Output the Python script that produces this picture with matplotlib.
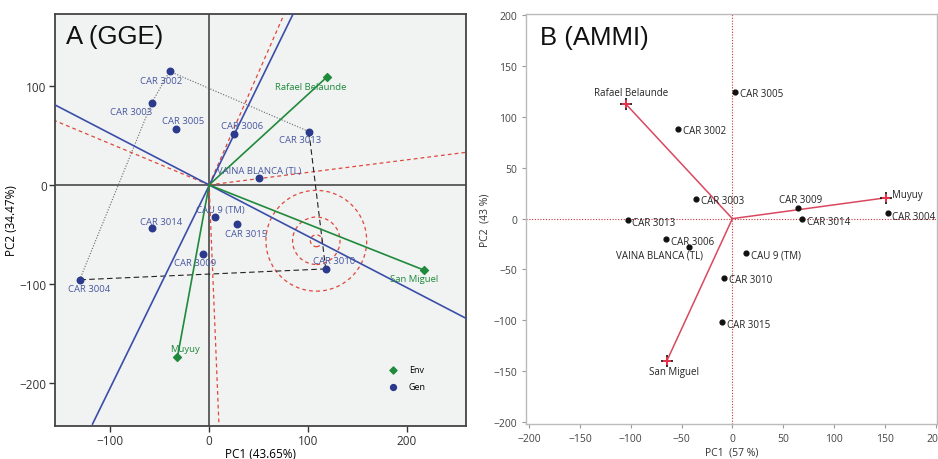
import matplotlib
matplotlib.use('Agg')
import matplotlib.pyplot as plt
from matplotlib.patches import Circle

plt.rcParams['font.family'] = ['Open Sans', 'DejaVu Sans']

# ====== Dati pannello A (GGE biplot) ======
gge_gen_names = ['CAR 3002', 'CAR 3003', 'CAR 3005', 'CAR 3006', 'CAR 3013',
                 'VAINA BLANCA (TL)', 'CAU 9 (TM)', 'CAR 3015', 'CAR 3014',
                 'CAR 3009', 'CAR 3004', 'CAR 3010']
gge_gen_x = [-40, -58, -34, 25.5, 101, 51, 6, 28, -58, -6, -131, 118]
gge_gen_y = [115, 83, 57, 52, 54, 7, -32, -40, -44, -70, -96, -85]
gge_env_names = ['Rafael Belaunde', 'San Miguel', 'Muyuy']
gge_env_x = [119, 217, -32]
gge_env_y = [109, -86, -174]
# lati del poligono
hull_dotted = [('CAR 3004', 'CAR 3003'), ('CAR 3003', 'CAR 3002'), ('CAR 3002', 'CAR 3013')]
hull_dashed = [('CAR 3013', 'CAR 3010'), ('CAR 3010', 'CAR 3004')]
# rette blu (estremi)
blue_lines = [((-118, -242), (85, 173)), ((-156, 81), (260, -135))]
# raggi rossi tratteggiati dall'origine
red_rays = [(76, 173), (-156, 65), (260, 33), (10, -244)]
circle_center = (108.5, -56.5)
circle_radii = [6, 24, 51]

# offset etichette (pixel, y verso il basso)
gge_gen_off = [(-8, 9), (-21, 9), (8, -8), (8, -8), (-9, 8), (0, -8), (5, -7),
               (9, 9), (9, -7), (-8, 8), (9, 9), (8, -8)]
gge_env_off = [(-16, 9), (-9, 9), (8, -8)]

# ====== Dati pannello B (AMMI biplot) ======
ammi_gen_names = ['CAR 3005', 'CAR 3002', 'CAR 3003', 'CAR 3009', 'CAR 3004',
                  'CAR 3014', 'CAR 3013', 'CAR 3006', 'VAINA BLANCA (TL)',
                  'CAU 9 (TM)', 'CAR 3010', 'CAR 3015']
ammi_gen_x = [3, -53.5, -36, 64.5, 153, 68.5, -102.5, -65.5, -42.5, 13.5, -8, -10]
ammi_gen_y = [125, 88.5, 19.5, 10, 5.5, -0.5, -1, -20, -27.5, -33.5, -58, -102]
ammi_env_names = ['Rafael Belaunde', 'Muyuy', 'San Miguel']
ammi_env_x = [-105, 151, -64.5]
ammi_env_y = [113, 20.5, -140]
ammi_gen_off = [(5, 2), (5, 2), (5, 2), (3, -9), (4, 3), (5, 2), (4, 3), (5, 3),
                (-30, 8), (5, 2), (5, 2), (5, 2)]
ammi_gen_ha = ['left', 'left', 'left', 'center', 'left', 'left', 'left', 'left',
               'center', 'left', 'left', 'left']
ammi_env_off = [(5, -11), (6, -3), (7, 11)]
ammi_env_ha = ['center', 'left', 'center']

# ====== Colori ======
BG_A = '#f1f2f2'
NAVY = '#2b3a8c'
NAVY_TXT = '#4858a0'
GREEN = '#1f8a3b'
BLUE_L = '#3a4ea8'
RED_D = '#e0483c'
CRIMSON = '#d9485f'

fig = plt.figure(figsize=(9.38, 4.6), dpi=100)
px = 0.72  # punti per pixel


def off(o, ha='center'):
    return dict(xytext=(o[0] * px, -o[1] * px), textcoords='offset points',
                ha=ha, va='center')


# ====== Pannello A ======
axA = fig.add_axes([0.0586, 0.0717, 0.4382, 0.8957])
axA.set_facecolor(BG_A)
axA.set_xlim(-156, 260)
axA.set_ylim(-244, 173)
axA.axhline(0, color='#555555', lw=1.3, zorder=1)
axA.axvline(0, color='#555555', lw=1.3, zorder=1)

for r in red_rays:
    axA.plot([0, r[0]], [0, r[1]], color=RED_D, ls=(0, (3, 2.5)), lw=0.9, zorder=2)
for (a, b) in blue_lines:
    axA.plot([a[0], b[0]], [a[1], b[1]], color=BLUE_L, lw=1.2, zorder=3)
for rad in circle_radii:
    axA.add_patch(Circle(circle_center, rad, fill=False, ec=RED_D,
                         ls=(0, (3, 2.5)), lw=0.9, zorder=2))

gidx = {n: i for i, n in enumerate(gge_gen_names)}
for a, b in hull_dotted:
    i, j = gidx[a], gidx[b]
    axA.plot([gge_gen_x[i], gge_gen_x[j]], [gge_gen_y[i], gge_gen_y[j]],
             color='#666666', ls=(0, (1, 1.5)), lw=0.8, zorder=2)
for a, b in hull_dashed:
    i, j = gidx[a], gidx[b]
    axA.plot([gge_gen_x[i], gge_gen_x[j]], [gge_gen_y[i], gge_gen_y[j]],
             color='#222222', ls=(0, (5, 3)), lw=0.8, zorder=2)

for x, y in zip(gge_env_x, gge_env_y):
    axA.plot([0, x], [0, y], color=GREEN, lw=1.2, zorder=3)

axA.scatter(gge_env_x, gge_env_y, marker='D', s=16, color=GREEN, zorder=5, label='Env')
axA.scatter(gge_gen_x, gge_gen_y, marker='o', s=22, color=NAVY, zorder=5, label='Gen')

for n, x, y, o in zip(gge_gen_names, gge_gen_x, gge_gen_y, gge_gen_off):
    axA.annotate(n, (x, y), fontsize=6.8, color=NAVY_TXT, zorder=6, **off(o))
for n, x, y, o in zip(gge_env_names, gge_env_x, gge_env_y, gge_env_off):
    axA.annotate(n, (x, y), fontsize=6.8, color=GREEN, zorder=6, **off(o))

axA.text(0.028, 0.975, 'A (GGE)', transform=axA.transAxes, fontsize=18.5,
         va='top', ha='left', color='#111111', family='Liberation Sans')
axA.legend(loc='lower left', bbox_to_anchor=(0.78, 0.065), frameon=False,
           fontsize=6.5, handletextpad=0.8, labelspacing=0.9, markerscale=0.9)

axA.set_xticks([-100, 0, 100, 200])
axA.set_yticks([-200, -100, 0, 100])
axA.tick_params(direction='out', length=4, width=1, labelsize=8.5, pad=2,
                colors='#333333')
for s in axA.spines.values():
    s.set_color('#444444')
    s.set_linewidth(1.3)
axA.set_xlabel('PC1 (43.65%)', fontsize=8.5, labelpad=0)
axA.set_ylabel('PC2 (34.47%)', fontsize=8.5, labelpad=1)

# ====== Pannello B ======
axB = fig.add_axes([0.5608, 0.0761, 0.4378, 0.8906])
axB.set_xlim(-203, 201)
axB.set_ylim(-202, 201)
axB.axhline(0, color='#c8323a', ls=(0, (1, 1.5)), lw=0.8, zorder=1)
axB.axvline(0, color='#c8323a', ls=(0, (1, 1.5)), lw=0.8, zorder=1)

for x, y in zip(ammi_env_x, ammi_env_y):
    axB.plot([0, x], [0, y], color=CRIMSON, lw=1.1, zorder=3)
axB.scatter(ammi_env_x, ammi_env_y, marker='+', s=70, color='#111111',
            linewidths=1.2, zorder=4)
axB.scatter(ammi_env_x, ammi_env_y, marker='P', s=28, color='#e8324a',
            linewidths=0, zorder=5)
axB.scatter(ammi_gen_x, ammi_gen_y, marker='o', s=12, color='#111111', zorder=5)

for n, x, y, o, ha in zip(ammi_gen_names, ammi_gen_x, ammi_gen_y, ammi_gen_off, ammi_gen_ha):
    axB.annotate(n, (x, y), fontsize=7, color='#222222', zorder=6, **off(o, ha))
for n, x, y, o, ha in zip(ammi_env_names, ammi_env_x, ammi_env_y, ammi_env_off, ammi_env_ha):
    axB.annotate(n, (x, y), fontsize=7, color='#222222', zorder=6, **off(o, ha))

axB.text(0.034, 0.975, 'B (AMMI)', transform=axB.transAxes, fontsize=18.5,
         va='top', ha='left', color='#111111', family='Liberation Sans')

axB.set_xticks(range(-200, 201, 50))
axB.set_yticks(range(-200, 201, 50))
axB.tick_params(direction='out', length=3, width=0.8, labelsize=7.5,
                colors='#999999', labelcolor='#444444')
for s in axB.spines.values():
    s.set_color('#bbbbbb')
    s.set_linewidth(1)
axB.set_xlabel('PC1  (57 %)', fontsize=7.5, color='#333333', labelpad=2)
axB.set_ylabel('PC2  (43 %)', fontsize=7.5, color='#333333', labelpad=2)

fig.savefig('out.png', dpi=100)
